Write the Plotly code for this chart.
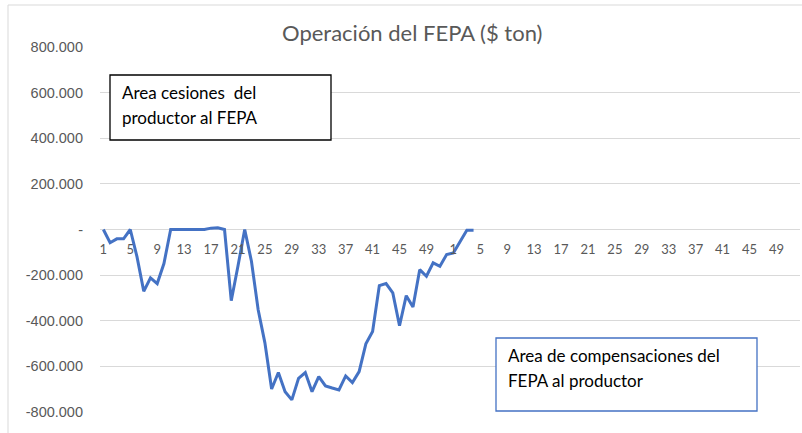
import plotly.graph_objects as go

# ---- data ----
week_labels = [str(i) for i in range(1, 53)] * 2  # two years of weeks
fepa_values = [
    0, -58000, -41000, -41000, 0, -120000, -271000, -212000, -237000, -149000,
    0, 0, 0, 0, 0, 0, 6000, 8000, 0, -312000,
    -160000, 0, -139000, -352000, -497000, -699000, -627000, -711000, -747000, -652000,
    -627000, -711000, -645000, -686000, -695000, -703000, -642000, -671000, -623000, -501000,
    -447000, -246000, -237000, -278000, -422000, -290000, -340000, -176000, -205000, -146000,
    -161000, -110000, -103000, -51000, -3000, -3000,
]
y_tick_values = [800000, 600000, 400000, 200000, 0, -200000, -400000, -600000, -800000]
y_tick_labels = ["800.000", "600.000", "400.000", "200.000", "-", "-200.000",
                 "-400.000", "-600.000", "-800.000"]

title_text = "Operación del FEPA ($ ton)"
box1_lines = ["Area cesiones  del", "productor al FEPA"]
box2_lines = ["Area de compensaciones del", "FEPA al productor"]

# ---- figure ----
W, H = 802, 433
ML, MR, MT, MB = 100, 2, 47, 21
PW, PH = W - ML - MR, H - MT - MB

def px(x):
    return (x - ML) / PW

def py(y):
    return (H - MB - y) / PH

x_idx = list(range(len(week_labels)))
y_full = fepa_values + [None] * (len(week_labels) - len(fepa_values))
y_range = [min(y_tick_values), max(y_tick_values)]

fig = go.Figure()
fig.add_trace(go.Scatter(
    x=x_idx, y=y_full, mode="lines",
    line=dict(color="#4472C4", width=3),
    connectgaps=False, showlegend=False, hoverinfo="skip",
))

grey = "#595959"
fig.update_layout(
    width=W, height=H,
    margin=dict(l=ML, r=MR, t=MT, b=MB, autoexpand=False),
    paper_bgcolor="white", plot_bgcolor="white",
    font=dict(family="Lato, 'Open Sans', sans-serif", color=grey),
    showlegend=False,
    xaxis=dict(
        range=[-0.5, len(week_labels) - 0.5],
        tickvals=x_idx[::4], ticktext=week_labels[::4],
        showgrid=False, zeroline=False, showline=False, ticks="",
        anchor="free", automargin=False,
        position=(0 - y_range[0]) / (y_range[1] - y_range[0]),
        tickfont=dict(size=13, color=grey, family="Lato, sans-serif"),
        ticklabelstandoff=10,
    ),
    yaxis=dict(
        range=y_range, automargin=False,
        tickvals=y_tick_values, ticktext=y_tick_labels,
        showgrid=True, gridcolor="#d9d9d9", gridwidth=1,
        zeroline=False, showline=False, ticks="",
        tickfont=dict(size=14.5, color=grey, family="'Liberation Sans', Arial, sans-serif"),
        ticklabelstandoff=16,
    ),
)

# chart outer border
fig.add_shape(type="rect", xref="paper", yref="paper",
              x0=px(8), x1=px(805), y0=py(436), y1=py(5),
              line=dict(color="#d9d9d9", width=1), fillcolor="rgba(0,0,0,0)", layer="below")

# title
fig.add_annotation(text=title_text, xref="paper", yref="paper",
                   x=px(412), y=py(33), xanchor="center", yanchor="middle",
                   showarrow=False, font=dict(size=22, color=grey, family="Lato, sans-serif"))

# text box 1
fig.add_shape(type="rect", xref="paper", yref="paper",
              x0=px(110), x1=px(331), y0=py(140), y1=py(75),
              line=dict(color="black", width=1.3), fillcolor="white")
for i, t in enumerate(box1_lines):
    fig.add_annotation(text=t, xref="paper", yref="paper",
                       x=px(120), y=py(92 + 25 * i), xanchor="left", yanchor="middle",
                       showarrow=False, font=dict(size=17, color="black", family="Lato, sans-serif"))

# text box 2
fig.add_shape(type="rect", xref="paper", yref="paper",
              x0=px(496), x1=px(757), y0=py(411), y1=py(338),
              line=dict(color="#4472C4", width=1.3), fillcolor="white")
for i, t in enumerate(box2_lines):
    fig.add_annotation(text=t, xref="paper", yref="paper",
                       x=px(506), y=py(355 + 25 * i), xanchor="left", yanchor="middle",
                       showarrow=False, font=dict(size=17, color="black", family="Lato, sans-serif"))

fig.write_html("out.html", config={"displayModeBar": False},
               post_script="document.body.style.margin='0';document.body.style.overflow='hidden';")
